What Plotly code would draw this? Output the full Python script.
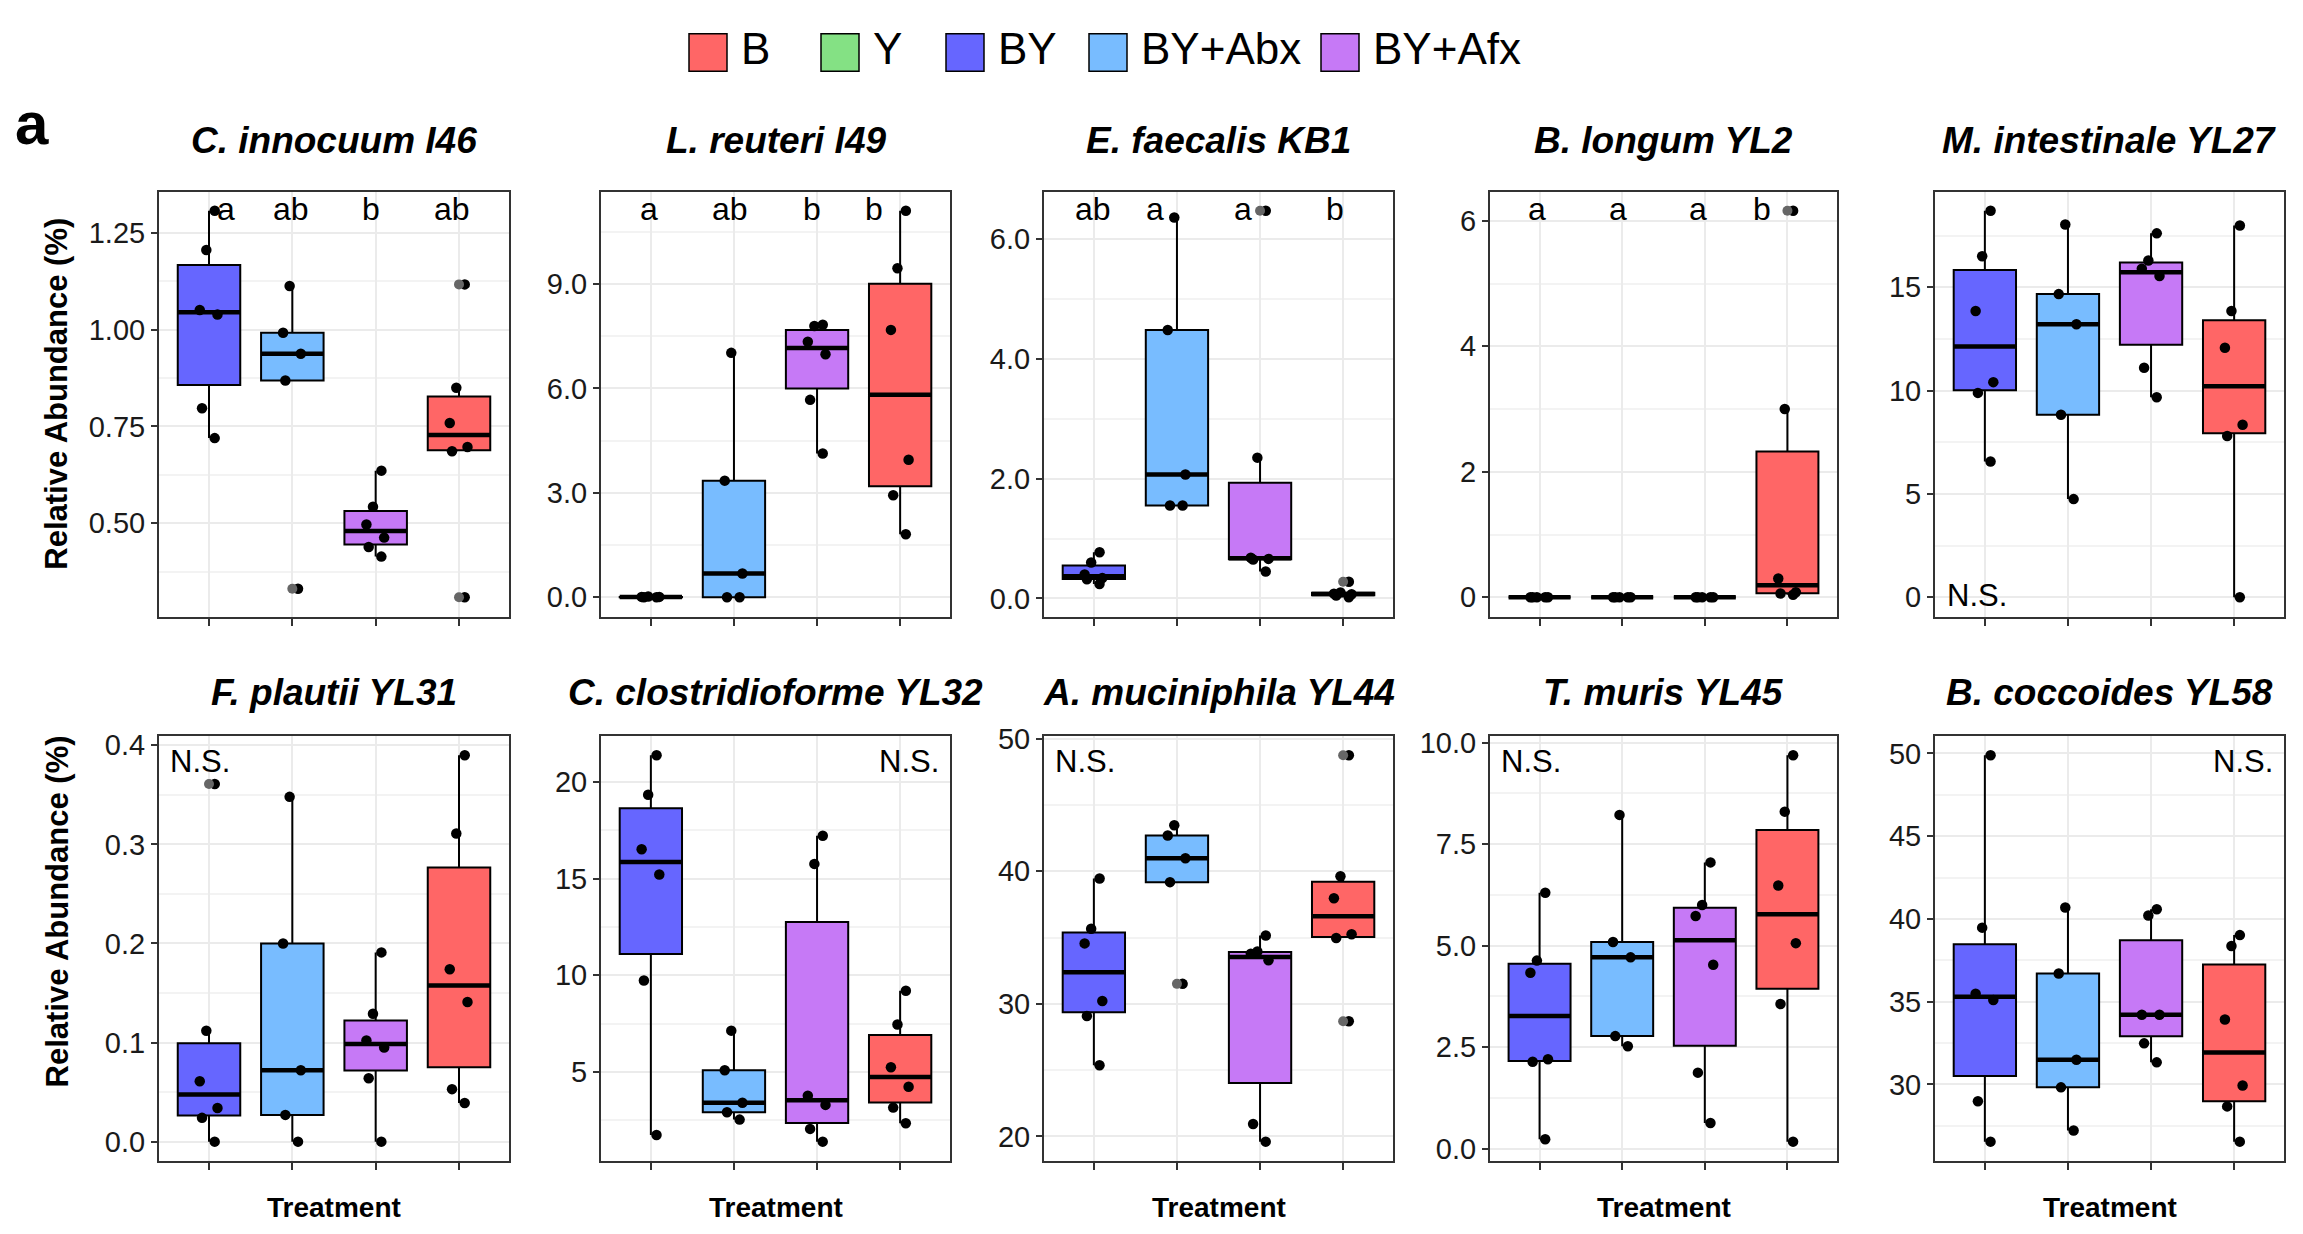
import numpy as np
import plotly.graph_objects as go

# ---------------- data ----------------
GROUPS = ["BY", "BY+Abx", "BY+Afx", "B"]
LEGEND_GROUPS = ["B", "Y", "BY", "BY+Abx", "BY+Afx"]
COLORS = {"B": "#FF6666", "Y": "#84E184", "BY": "#6666FF",
          "BY+Abx": "#78BCFF", "BY+Afx": "#C679F6"}

TITLES = ["C. innocuum I46", "L. reuteri I49", "E. faecalis KB1", "B. longum YL2",
          "M. intestinale YL27", "F. plautii YL31", "C. clostridioforme YL32",
          "A. muciniphila YL44", "T. muris YL45", "B. coccoides YL58"]

c_innocuum = {"BY": [1.307, 1.206, 1.051, 1.039, 0.797, 0.720],
              "BY+Abx": [1.113, 0.992, 0.938, 0.869, 0.331],
              "BY+Afx": [0.636, 0.543, 0.497, 0.463, 0.439, 0.414],
              "B": [1.117, 0.850, 0.759, 0.697, 0.686, 0.309]}
l_reuteri = {"BY": [0.0, 0.01, 0.02, 0.01, 0.0],
             "BY+Abx": [7.02, 3.35, 0.68, 0.0, 0.0],
             "BY+Afx": [7.83, 7.79, 7.34, 6.98, 5.67, 4.13],
             "B": [11.10, 9.45, 7.68, 3.95, 2.93, 1.81]}
e_faecalis = {"BY": [0.77, 0.60, 0.40, 0.34, 0.32, 0.24],
              "BY+Abx": [6.36, 4.48, 2.07, 1.55, 1.55],
              "BY+Afx": [6.47, 2.35, 0.68, 0.66, 0.65, 0.45],
              "B": [0.28, 0.10, 0.08, 0.07, 0.05, 0.02]}
b_longum = {"BY": [0.0, 0.0, 0.0, 0.0, 0.0],
            "BY+Abx": [0.0, 0.0, 0.0, 0.0, 0.0],
            "BY+Afx": [0.0, 0.0, 0.0, 0.0, 0.0],
            "B": [6.16, 3.00, 0.30, 0.08, 0.06, 0.04]}
m_intestinale = {"BY": [18.7, 16.5, 13.85, 10.41, 9.89, 6.57],
                 "BY+Abx": [18.04, 14.67, 13.21, 8.83, 4.75],
                 "BY+Afx": [17.61, 16.30, 15.90, 15.55, 11.11, 9.68],
                 "B": [17.99, 13.85, 12.07, 8.35, 7.80, 0.0]}
f_plautii = {"BY": [0.361, 0.112, 0.061, 0.034, 0.024, 0.0],
             "BY+Abx": [0.348, 0.200, 0.072, 0.027, 0.0],
             "BY+Afx": [0.191, 0.129, 0.102, 0.095, 0.064, 0.0],
             "B": [0.390, 0.311, 0.174, 0.141, 0.053, 0.039]}
c_clostridioforme = {"BY": [21.38, 19.34, 16.52, 15.21, 9.73, 1.74],
                     "BY+Abx": [7.14, 5.09, 3.41, 2.92, 2.54],
                     "BY+Afx": [17.22, 15.76, 3.77, 3.30, 2.06, 1.40],
                     "B": [9.20, 7.46, 5.25, 4.24, 3.16, 2.35]}
a_muciniphila = {"BY": [39.45, 35.66, 34.56, 30.21, 29.08, 25.37],
                 "BY+Abx": [43.47, 42.69, 40.98, 39.18, 31.51],
                 "BY+Afx": [35.16, 33.95, 33.78, 33.28, 20.94, 19.61],
                 "B": [48.75, 39.62, 37.96, 35.25, 34.97, 28.69]}
t_muris = {"BY": [6.30, 4.63, 4.33, 2.20, 2.14, 0.23],
           "BY+Abx": [8.22, 5.09, 4.71, 2.77, 2.52],
           "BY+Afx": [7.05, 6.00, 5.73, 4.53, 1.87, 0.63],
           "B": [9.69, 8.30, 6.48, 5.06, 3.56, 0.17]}
b_coccoides = {"BY": [49.89, 39.47, 35.48, 35.10, 28.98, 26.54],
               "BY+Abx": [40.69, 36.70, 31.49, 29.82, 27.21],
               "BY+Afx": [40.58, 40.20, 34.21, 34.21, 32.48, 31.33],
               "B": [39.02, 38.36, 33.92, 29.93, 28.67, 26.54]}

PANEL_DATA = [c_innocuum, l_reuteri, e_faecalis, b_longum, m_intestinale,
              f_plautii, c_clostridioforme, a_muciniphila, t_muris, b_coccoides]

TICKVALS = [[0.50, 0.75, 1.00, 1.25], [0, 3, 6, 9], [0, 2, 4, 6], [0, 2, 4, 6],
            [0, 5, 10, 15], [0, 0.1, 0.2, 0.3, 0.4], [5, 10, 15, 20],
            [20, 30, 40, 50], [0, 2.5, 5, 7.5, 10], [30, 35, 40, 45, 50]]
TICKTEXT = [["0.50", "0.75", "1.00", "1.25"], ["0.0", "3.0", "6.0", "9.0"],
            ["0.0", "2.0", "4.0", "6.0"], ["0", "2", "4", "6"],
            ["0", "5", "10", "15"], ["0.0", "0.1", "0.2", "0.3", "0.4"],
            ["5", "10", "15", "20"], ["20", "30", "40", "50"],
            ["0.0", "2.5", "5.0", "7.5", "10.0"], ["30", "35", "40", "45", "50"]]

LETTERS = {0: ["a", "ab", "b", "ab"], 1: ["a", "ab", "b", "b"],
           2: ["ab", "a", "a", "b"], 3: ["a", "a", "a", "b"]}
NS_PANELS = {4: "bl", 5: "tl", 6: "tr", 7: "tl", 8: "tl", 9: "tr"}

# ---------------- layout constants ----------------
W, H = 2303, 1234
FONT = "Liberation Sans, Arial, Helvetica, sans-serif"
COL_PX = [(159, 509), (601, 950), (1044, 1393), (1490, 1837), (1935, 2284)]
ROW_PX = [(181, 612), (733, 1164)]
TITLE_Y = [129, 689]
YLABEL_Y = [386, 911]
LETTER_NUDGE = {0: [0.2, -0.02, -0.06, -0.09], 1: [-0.02, -0.05, -0.06, -0.31],
                2: [-0.01, -0.27, -0.2, -0.1], 3: [-0.03, -0.05, -0.08, -0.31]}
LEGEND_X = [689, 821, 946, 1089, 1321]


def px_x(x):
    return x / W


def px_y(y):
    return 1 - y / H


def box_stats(vals):
    v = np.sort(np.asarray(vals, dtype=float))
    q1, med, q3 = np.percentile(v, [25, 50, 75])
    iqr = q3 - q1
    lf = v[v >= q1 - 1.5 * iqr].min()
    uf = v[v <= q3 + 1.5 * iqr].max()
    out = v[(v < lf) | (v > uf)]
    return q1, med, q3, lf, uf, out


fig = go.Figure()
layout = dict(width=W, height=H, margin=dict(l=0, r=0, t=0, b=0),
              paper_bgcolor="white", plot_bgcolor="white", showlegend=False,
              boxmode="overlay", font=dict(family=FONT, color="black"))
annotations = []
shapes = []

for i, data in enumerate(PANEL_DATA):
    r, c = divmod(i, 5)
    xk = "x" if i == 0 else f"x{i+1}"
    yk = "y" if i == 0 else f"y{i+1}"
    xa = "xaxis" if i == 0 else f"xaxis{i+1}"
    ya = "yaxis" if i == 0 else f"yaxis{i+1}"

    outliers_x, outliers_y = [], []
    for g in GROUPS:
        vals = data[g]
        q1, med, q3, lf, uf, out = box_stats(vals)
        outliers_x += [g] * len(out)
        outliers_y += list(out)
        fig.add_trace(go.Box(x=[g], q1=[q1], median=[med], q3=[q3],
                             lowerfence=[lf], upperfence=[uf],
                             fillcolor=COLORS[g], line=dict(color="black", width=2),
                             whiskerwidth=0, width=0.75, boxpoints=False,
                             xaxis=xk, yaxis=yk, hoverinfo="skip"))
        fig.add_trace(go.Box(x=[g], q1=[med], median=[med], q3=[med],
                             lowerfence=[med], upperfence=[med],
                             fillcolor="rgba(0,0,0,0)", line=dict(color="black", width=4.5),
                             whiskerwidth=0, width=0.75, boxpoints=False,
                             xaxis=xk, yaxis=yk, hoverinfo="skip"))
    # boxplot outliers (drawn at the category centre, as in ggplot)
    fig.add_trace(go.Scatter(x=outliers_x, y=outliers_y, mode="markers",
                             marker=dict(color="#666666", size=10),
                             xaxis=xk, yaxis=yk, hoverinfo="skip"))
    for g in GROUPS:
        vals = data[g]
        fig.add_trace(go.Box(x=[g] * len(vals), y=vals, boxpoints="all", jitter=0.35,
                             pointpos=0, width=0.75,
                             marker=dict(color="black", size=10.5),
                             fillcolor="rgba(0,0,0,0)",
                             line=dict(color="rgba(0,0,0,0)", width=0),
                             whiskerwidth=0, xaxis=xk, yaxis=yk, hoveron="points"))

    allv = np.concatenate([np.asarray(data[g], dtype=float) for g in GROUPS])
    lo, hi = allv.min(), allv.max()
    pad = 0.05 * (hi - lo)
    tv = TICKVALS[i]
    step = tv[1] - tv[0]
    minor = [tv[0] - step / 2] + [t + step / 2 for t in tv]

    x0, x1 = COL_PX[c]
    y0, y1 = ROW_PX[r]
    layout[xa] = dict(domain=[px_x(x0), px_x(x1)], anchor=yk, type="category",
                      categoryorder="array", categoryarray=GROUPS,
                      showticklabels=False, ticks="outside", ticklen=7, tickwidth=1.5,
                      tickcolor="#333333", showgrid=True, gridcolor="#EBEBEB", gridwidth=2,
                      showline=True, mirror=True, linecolor="#333333", linewidth=2,
                      range=[-0.6, 3.6], zeroline=False, fixedrange=True)
    layout[ya] = dict(domain=[px_y(y1), px_y(y0)], anchor=xk,
                      range=[lo - pad, hi + pad], tickmode="array", tickvals=tv,
                      ticktext=TICKTEXT[i], ticks="outside", ticklen=6, tickwidth=1.5,
                      tickcolor="#333333", tickfont=dict(size=29, color="#1a1a1a"),
                      showgrid=True, gridcolor="#EBEBEB", gridwidth=2,
                      minor=dict(tickvals=minor, showgrid=True, gridcolor="#F3F3F3",
                                 gridwidth=1.5, ticks=""),
                      showline=True, mirror=True, linecolor="#333333", linewidth=2,
                      zeroline=False, fixedrange=True)

    # panel title
    annotations.append(dict(text=f"<b><i>{TITLES[i]}</i></b>", xref="paper", yref="paper",
                            x=px_x((x0 + x1) / 2), y=px_y(TITLE_Y[r]), xanchor="center",
                            yanchor="middle", showarrow=False, font=dict(size=37)))

    # significance letters
    if i in LETTERS:
        for k, (lab, nd) in enumerate(zip(LETTERS[i], LETTER_NUDGE[i])):
            annotations.append(dict(text=lab, xref=xk, yref=f"{yk} domain",
                                    x=k + nd, y=0.96, xanchor="center", yanchor="middle",
                                    showarrow=False, font=dict(size=32)))
    if i in NS_PANELS:
        pos = NS_PANELS[i]
        if pos == "bl":
            ax, ay, xan = 0.03, 0.05, "left"
        elif pos == "tl":
            ax, ay, xan = 0.025, 0.94, "left"
        else:
            ax, ay, xan = 0.975, 0.94, "right"
        annotations.append(dict(text="N.S.", xref=f"{xk} domain", yref=f"{yk} domain",
                                x=ax, y=ay, xanchor=xan, yanchor="middle",
                                showarrow=False, font=dict(size=31)))
    if r == 1:
        annotations.append(dict(text="<b>Treatment</b>", xref="paper", yref="paper",
                                x=px_x((x0 + x1) / 2), y=px_y(1211), xanchor="center",
                                yanchor="middle", showarrow=False, font=dict(size=28)))

# y-axis titles
for yc in YLABEL_Y:
    annotations.append(dict(text="<b>Relative Abundance (%)</b>", xref="paper", yref="paper",
                            x=px_x(57), y=px_y(yc), xanchor="center", yanchor="middle",
                            textangle=-90, showarrow=False, font=dict(size=31)))

# panel tag
annotations.append(dict(text="<b>a</b>", xref="paper", yref="paper", x=px_x(32), y=px_y(112),
                        xanchor="center", yanchor="middle", showarrow=False,
                        font=dict(size=60)))

# legend (drawn manually so the keys match the reference size)
for g, lx in zip(LEGEND_GROUPS, LEGEND_X):
    shapes.append(dict(type="rect", xref="paper", yref="paper",
                       x0=px_x(lx), x1=px_x(lx + 38), y0=px_y(59), y1=px_y(21),
                       fillcolor=COLORS[g], line=dict(color="black", width=1.5)))
    annotations.append(dict(text=g, xref="paper", yref="paper", x=px_x(lx + 50),
                            y=px_y(36), xanchor="left", yanchor="middle",
                            showarrow=False, font=dict(size=44)))

layout["annotations"] = annotations
layout["shapes"] = shapes
fig.update_layout(**layout)
fig.write_html("out.html")
